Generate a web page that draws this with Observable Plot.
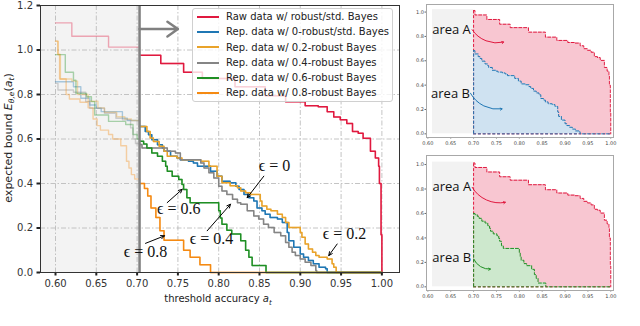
<!DOCTYPE html>
<html>
<head>
<meta charset="utf-8">
<script src="https://cdn.jsdelivr.net/npm/d3@7"></script>
<script src="https://cdn.jsdelivr.net/npm/@observablehq/plot@0.6"></script>
<style>
  body { margin: 0; background: #fff; }
  #wrap { position: relative; width: 640px; height: 326px; overflow: hidden; font-family: "DejaVu Sans", sans-serif; }
  #main { position: absolute; left: 0; top: 0; }
  #insetA { position: absolute; left: 413px; top: 0; }
  #insetB { position: absolute; left: 413px; top: 152px; }
  #legend { position: absolute; left: 192px; top: 8px; width: 201px; height: 94px; box-sizing: border-box;
            border: 1px solid #d0d0d0; border-radius: 3px; background: rgba(255,255,255,0.8);
            font-size: 10px; color: #222; }
  .row { height: 15.3px; line-height: 15.3px; white-space: nowrap; display: flex; align-items: center; }
  .sw { display: inline-block; width: 22px; height: 2px; margin-left: 4px; margin-right: 7px; flex: none; }
</style>
</head>
<body>
<div id="wrap">
  <div id="main"></div>
  <div id="legend"></div>
  <div id="insetA"></div>
  <div id="insetB"></div>
</div>
<script>
// ---------------- data ----------------
const legendLabels = [
  "Raw data w/ robust/std. Bayes",
  "Rep. data w/ 0-robust/std. Bayes",
  "Rep. data w/ 0.2-robust Bayes",
  "Rep. data w/ 0.4-robust Bayes",
  "Rep. data w/ 0.6-robust Bayes",
  "Rep. data w/ 0.8-robust Bayes"
];
const seriesColors = ["#e0193f", "#1f77b4", "#e9a32a", "#858585", "#1f8f24", "#f58a12"];

const thresholdAcc = 0.703;
const insetThreshold = 0.700;
const xTicks = [0.60, 0.65, 0.70, 0.75, 0.80, 0.85, 0.90, 0.95, 1.00];
const yTicks = [0.0, 0.2, 0.4, 0.6, 0.8, 1.0, 1.2];
const insetYTicks = [0.0, 0.2, 0.4, 0.6, 0.8, 1.0];

// [threshold accuracy, expected bound]
const rawData = [[0.600,1.122],[0.620,1.062],[0.665,1.013],[0.703,0.976],[0.729,0.939],[0.757,0.900],[0.780,0.872],
  [0.820,0.835],[0.857,0.794],[0.882,0.767],[0.906,0.750],[0.922,0.745],[0.933,0.723],[0.941,0.699],[0.949,0.686],
  [0.957,0.670],[0.964,0.634],[0.971,0.626],[0.977,0.603],[0.986,0.545],[0.992,0.515],[0.996,0.478],[0.997,0.400],
  [0.999,0.170],[1.000,0.000]];
const eps0Data = [[0.600,0.857],[0.622,0.835],[0.631,0.783],[0.642,0.753],[0.650,0.738],[0.656,0.723],[0.682,0.693],[0.688,0.683],
  [0.703,0.656],[0.710,0.634],[0.714,0.619],[0.718,0.597],[0.725,0.574],[0.731,0.560],[0.733,0.545],[0.741,0.522],[0.749,0.515],
  [0.753,0.507],[0.763,0.500],[0.769,0.492],[0.774,0.478],[0.790,0.455],[0.798,0.433],[0.804,0.410],[0.814,0.403],[0.821,0.388],
  [0.825,0.373],[0.831,0.351],[0.837,0.336],[0.843,0.321],[0.847,0.290],[0.853,0.277],[0.857,0.262],[0.863,0.247],[0.872,0.240],
  [0.878,0.225],[0.884,0.180],[0.886,0.143],[0.892,0.113],[0.900,0.083],[0.904,0.068],[0.910,0.054],[0.916,0.039],[0.923,0.024],
  [0.931,0.017],[0.933,0.000],[1.000,0.000]];
const eps02Data = [[0.600,1.040],[0.603,0.980],[0.606,0.870],[0.620,0.860],[0.627,0.800],[0.640,0.770],[0.652,0.740],[0.660,0.720],
  [0.675,0.700],[0.685,0.690],[0.693,0.683],
  [0.703,0.656],[0.712,0.634],[0.716,0.604],[0.720,0.589],[0.727,0.567],[0.733,0.545],[0.737,0.522],[0.749,0.515],[0.755,0.507],
  [0.778,0.500],[0.788,0.478],[0.798,0.433],[0.804,0.403],[0.814,0.390],[0.823,0.381],[0.827,0.366],[0.833,0.358],[0.839,0.351],
  [0.851,0.321],[0.853,0.299],[0.859,0.284],[0.864,0.277],[0.872,0.262],[0.878,0.247],[0.882,0.225],[0.886,0.202],[0.900,0.180],
  [0.902,0.158],[0.906,0.128],[0.910,0.106],[0.915,0.091],[0.919,0.076],[0.923,0.068],[0.933,0.061],[0.939,0.039],[0.941,0.024],
  [0.944,0.000],[1.000,0.000]];
const eps04Data = [[0.600,0.850],[0.603,0.820],[0.622,0.810],[0.637,0.768],[0.642,0.738],[0.660,0.716],[0.674,0.693],[0.682,0.686],
  [0.692,0.650],[0.695,0.600],[0.698,0.580],
  [0.703,0.575],[0.706,0.560],[0.737,0.545],[0.747,0.537],[0.753,0.507],[0.778,0.492],[0.782,0.470],[0.788,0.448],[0.794,0.425],
  [0.800,0.388],[0.804,0.366],[0.810,0.351],[0.817,0.329],[0.823,0.314],[0.827,0.307],[0.835,0.277],[0.843,0.254],[0.849,0.240],
  [0.855,0.217],[0.861,0.202],[0.868,0.180],[0.876,0.165],[0.882,0.135],[0.886,0.113],[0.890,0.091],[0.894,0.076],[0.900,0.061],
  [0.906,0.046],[0.913,0.031],[0.919,0.009],[0.920,0.000],[1.000,0.000]];
const eps06Data = [[0.600,0.979],[0.612,0.900],[0.622,0.864],[0.625,0.805],[0.638,0.790],[0.644,0.768],[0.648,0.708],[0.665,0.679],
  [0.686,0.665],[0.695,0.620],[0.700,0.600],
  [0.703,0.590],[0.708,0.577],[0.712,0.560],[0.718,0.537],[0.725,0.522],[0.731,0.500],[0.735,0.478],[0.737,0.455],[0.743,0.433],
  [0.751,0.418],[0.755,0.396],[0.757,0.373],[0.761,0.336],[0.765,0.314],[0.800,0.277],[0.802,0.245],[0.804,0.217],[0.810,0.190],
  [0.816,0.173],[0.827,0.143],[0.833,0.100],[0.837,0.068],[0.841,0.031],[0.858,0.000],[1.000,0.000]];
const eps08Data = [[0.600,1.040],[0.603,0.980],[0.605,0.870],[0.613,0.800],[0.617,0.780],[0.630,0.765],[0.640,0.740],[0.646,0.690],
  [0.651,0.660],[0.655,0.640],[0.665,0.620],[0.670,0.600],[0.680,0.570],[0.687,0.500],[0.690,0.470],[0.693,0.440],[0.697,0.420],
  [0.703,0.400],[0.709,0.378],[0.713,0.344],[0.717,0.290],[0.723,0.247],[0.728,0.188],[0.733,0.145],[0.757,0.100],[0.765,0.068],
  [0.777,0.035],[0.790,0.000],[1.000,0.000]];

// annotations: label, text position, arrow tail, arrow tip (data units)
const annoLabels = ["ϵ = 0", "ϵ = 0.2", "ϵ = 0.4", "ϵ = 0.6", "ϵ = 0.8"];
const annoTextAcc = [0.8684, 0.9542, 0.7912, 0.7511, 0.7103];
const annoTextBound = [0.478, 0.173, 0.150, 0.284, 0.091];
const annoTailAcc = [0.8553, 0.9452, 0.7859, 0.7369, 0.7103];
const annoTailBound = [0.433, 0.128, 0.1875, 0.314, 0.131];
const annoTipAcc = [0.8349, 0.9349, 0.8145, 0.7553, 0.7336];
const annoTipBound = [0.336, 0.076, 0.307, 0.374, 0.165];

const shiftArrowEnd = 0.750;
const shiftArrowLevel = 1.094;

// insets
const insetShadeStart = 0.61;
const insetShadeTop = 1.02;
const insetTexts = ["area A", "area B"];
const insetATextAcc = [0.6517, 0.6495], insetATextBound = [0.855, 0.329];
const insetATailAcc = [0.6968, 0.6931], insetATailBound = [0.855, 0.334];
const insetATipAcc = [0.7658, 0.7623], insetATipBound = [0.753, 0.205];
const insetBTextAcc = [0.6523, 0.6523], insetBTextBound = [0.82, 0.235];
const insetBTailAcc = [0.6968, 0.7003], insetBTailBound = [0.814, 0.227];
const insetBTipAcc = [0.7695, 0.7368], insetBTipBound = [0.691, 0.145];

// ---------------- build ----------------
const toPts = arr => arr.map(([a, v]) => ({a, v}));
const allSeries = [rawData, eps0Data, eps02Data, eps04Data, eps06Data, eps08Data].map((d, i) => ({
  label: legendLabels[i], color: seriesColors[i], pts: toPts(d)
}));

const xDomain = [0.5816, 1.0216];
const yDomain = [0, 1.2];
const serif = "'Liberation Serif','DejaVu Serif',serif";

const marks = [];
marks.push(Plot.rect([0], {x1: () => xDomain[0], x2: () => thresholdAcc, y1: () => yDomain[0], y2: () => yDomain[1], fill: "#f3f3f3"}));
marks.push(Plot.gridX(xTicks, {stroke: "#b5b5b5", strokeOpacity: 1, strokeWidth: 0.8, strokeDasharray: "5,2,1.5,2"}));
marks.push(Plot.gridY(yTicks, {stroke: "#b5b5b5", strokeOpacity: 1, strokeWidth: 0.8, strokeDasharray: "5,2,1.5,2"}));
for (const s of allSeries) {
  marks.push(Plot.line(s.pts, {x: "a", y: "v", curve: "step-after", stroke: s.color, strokeWidth: 1.4, strokeOpacity: 0.36}));
}
for (const s of allSeries) {
  marks.push(Plot.line(s.pts.filter(p => p.a >= thresholdAcc), {x: "a", y: "v", curve: "step-after", stroke: s.color, strokeWidth: 1.5}));
}
marks.push(Plot.ruleX([thresholdAcc], {stroke: "#808080", strokeWidth: 2.5}));
marks.push(Plot.arrow([0], {x1: () => thresholdAcc, x2: () => shiftArrowEnd, y1: () => shiftArrowLevel, y2: () => shiftArrowLevel,
  stroke: "#808080", strokeWidth: 2.5, headLength: 9, headAngle: 70}));
const annos = annoLabels.map((t, i) => ({t, x: annoTextAcc[i], y: annoTextBound[i], x1: annoTailAcc[i], y1: annoTailBound[i], x2: annoTipAcc[i], y2: annoTipBound[i]}));
marks.push(Plot.arrow(annos, {x1: "x1", y1: "y1", x2: "x2", y2: "y2", stroke: "#000", strokeWidth: 1, headLength: 6, headAngle: 50}));
marks.push(Plot.text(annos, {x: "x", y: "y", text: "t", fontSize: 16, fill: "#111", fontFamily: serif}));
marks.push(Plot.axisX(xTicks, {tickFormat: d3.format(".2f"), tickSize: 3.5, tickPadding: 4, fontSize: 10, strokeWidth: 2, stroke: "#222", fill: "#333", label: null}));
marks.push(Plot.axisY(yTicks, {tickFormat: d3.format(".1f"), tickSize: 3.5, tickPadding: 4, fontSize: 10, strokeWidth: 2, stroke: "#222", fill: "#333", label: null}));
marks.push(Plot.frame({stroke: "#333", strokeWidth: 1}));

const mainPlot = Plot.plot({
  width: 410, height: 326,
  marginLeft: 40, marginRight: 11, marginTop: 5, marginBottom: 54,
  x: {domain: xDomain, label: null},
  y: {domain: yDomain, label: null},
  style: {fontFamily: "DejaVu Sans, sans-serif", background: "transparent"},
  marks
});
document.getElementById("main").appendChild(mainPlot);

const svgM = d3.select(mainPlot);
svgM.selectAll('g[aria-label="text"] text').style("font-family", serif);

// axis labels with math-style subscripts
const xl = svgM.append("text").attr("x", 218).attr("y", 302).attr("text-anchor", "middle")
  .attr("font-size", 10).attr("fill", "#222").attr("font-family", "DejaVu Sans, sans-serif");
xl.append("tspan").text("threshold accuracy ");
xl.append("tspan").attr("font-style", "italic").text("a");
xl.append("tspan").attr("font-size", 7).attr("dy", 2.5).attr("font-style", "italic").text("t");

const yl = svgM.append("text").attr("transform", "translate(11.5,138) rotate(-90)").attr("text-anchor", "middle")
  .attr("font-size", 11).attr("fill", "#222").attr("font-family", "DejaVu Sans, sans-serif");
yl.append("tspan").text("expected bound ");
yl.append("tspan").attr("font-style", "italic").text("E");
yl.append("tspan").attr("font-size", 7.5).attr("dy", 2.5).attr("font-style", "italic").text("θ,e");
yl.append("tspan").attr("dy", -2.5).text("(");
yl.append("tspan").attr("font-style", "italic").text("a");
yl.append("tspan").attr("font-size", 7.5).attr("dy", 2.5).attr("font-style", "italic").text("t");
yl.append("tspan").attr("dy", -2.5).text(")");

// legend
const leg = document.getElementById("legend");
allSeries.forEach(s => {
  const r = document.createElement("div");
  r.className = "row";
  const sw = document.createElement("span");
  sw.className = "sw";
  sw.style.background = s.color;
  r.appendChild(sw);
  const t = document.createElement("span");
  t.textContent = s.label;
  r.appendChild(t);
  leg.appendChild(r);
});

// ---------------- insets ----------------
function fromThreshold(pts) {
  // value in effect at the inset threshold, then the following steps
  const before = pts.filter(p => p.a <= insetThreshold);
  const start = {a: insetThreshold, v: before[before.length - 1].v};
  return [start, ...pts.filter(p => p.a > insetThreshold)];
}
function makeInset(el, height, mTop, mBottom, yDom, bSeries, bFill, tx) {
  const raw = fromThreshold(allSeries[0].pts);
  const b = fromThreshold(bSeries.pts);
  const bEnd = b.find(p => p.v === 0).a;
  const txts = insetTexts.map((t, i) => ({t, x: tx.textAcc[i], y: tx.textBound[i], x1: tx.tailAcc[i], y1: tx.tailBound[i], x2: tx.tipAcc[i], y2: tx.tipBound[i], c: i === 0 ? allSeries[0].color : bSeries.color}));
  const dash = "3,1.8";
  const p = Plot.plot({
    width: 227, height,
    marginLeft: 13, marginRight: 27, marginTop: mTop, marginBottom: mBottom,
    x: {domain: [0.597, 1.006], label: null},
    y: {domain: yDom, label: null},
    style: {fontFamily: "DejaVu Sans, sans-serif", background: "transparent"},
    marks: [
      Plot.rect([0], {x1: () => insetShadeStart, x2: () => insetThreshold, y1: () => 0, y2: () => insetShadeTop, fill: "#f2f2f2"}),
      Plot.areaY(raw, {x: "a", y: "v", curve: "step-after", fill: "#f8c6d1"}),
      Plot.areaY(b, {x: "a", y: "v", curve: "step-after", fill: bFill}),
      Plot.line(raw, {x: "a", y: "v", curve: "step-after", stroke: allSeries[0].color, strokeWidth: 1, strokeDasharray: dash}),
      Plot.ruleX([insetThreshold], {y1: () => 0, y2: () => raw[0].v, stroke: allSeries[0].color, strokeWidth: 1, strokeDasharray: dash}),
      Plot.ruleY([0], {x1: () => insetThreshold, x2: () => raw[raw.length - 1].a, stroke: allSeries[0].color, strokeWidth: 1, strokeDasharray: dash}),
      Plot.line(b, {x: "a", y: "v", curve: "step-after", stroke: bSeries.color, strokeWidth: 1, strokeDasharray: dash}),
      Plot.ruleX([insetThreshold], {y1: () => 0, y2: () => b[0].v, stroke: bSeries.color, strokeWidth: 1, strokeDasharray: dash}),
      Plot.ruleY([0], {x1: () => insetThreshold, x2: () => bEnd, stroke: bSeries.color, strokeWidth: 1, strokeDasharray: dash}),
      Plot.text(txts, {x: "x", y: "y", text: "t", fontSize: 13, fill: "#111", fontFamily: "'Open Sans', 'DejaVu Sans', sans-serif"}),
      Plot.arrow(txts, {x1: "x1", y1: "y1", x2: "x2", y2: "y2", stroke: "c", strokeWidth: 1, bend: -35, headLength: 3}),
      Plot.axisX(xTicks, {tickFormat: d3.format(".2f"), tickSize: 1.5, tickPadding: 2, fontSize: 5, fill: "#444", stroke: "#666", label: null}),
      Plot.axisY(insetYTicks, {tickFormat: d3.format(".1f"), tickSize: 1.5, tickPadding: 1, fontSize: 5, fill: "#444", stroke: "#666", label: null}),
      Plot.frame({stroke: "#a8a8a8", strokeWidth: 1})
    ]
  });
  document.getElementById(el).appendChild(p);
}
makeInset("insetA", 152, 4, 15, [-0.03, 1.062], allSeries[1], "#cfe2f1",
  {textAcc: insetATextAcc, textBound: insetATextBound, tailAcc: insetATailAcc, tailBound: insetATailBound, tipAcc: insetATipAcc, tipBound: insetATipBound});
makeInset("insetB", 174, 3, 36, [-0.03, 1.074], allSeries[4], "#cde8cd",
  {textAcc: insetBTextAcc, textBound: insetBTextBound, tailAcc: insetBTailAcc, tailBound: insetBTailBound, tipAcc: insetBTipAcc, tipBound: insetBTipBound});
</script>
</body>
</html>
